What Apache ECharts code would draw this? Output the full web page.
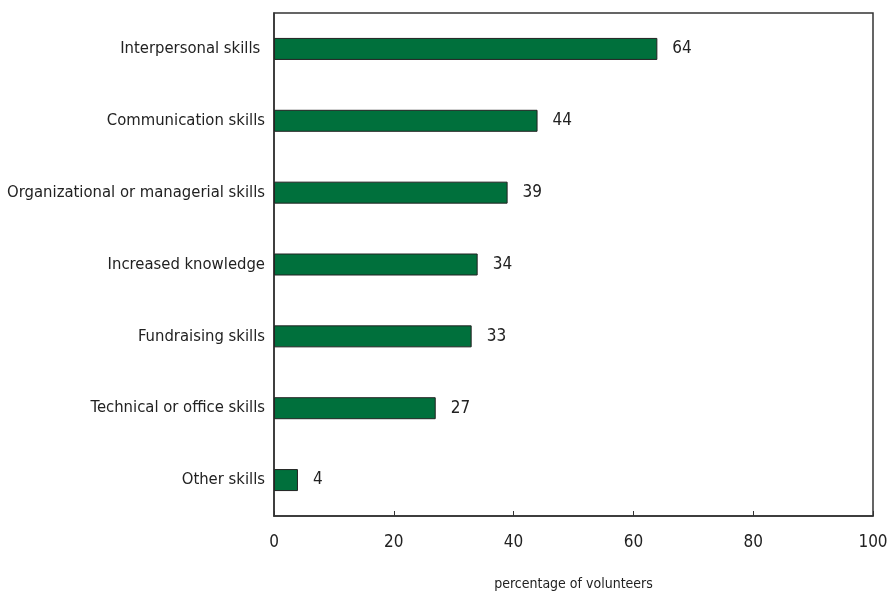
<!DOCTYPE html>
<html><head><meta charset="utf-8">
<script src="https://cdn.jsdelivr.net/npm/echarts@6/dist/echarts.min.js"></script>
<style>html,body{margin:0;padding:0;background:#fff}#c{width:888px;height:596px}</style>
</head><body><div id="c"></div>
<script>
const categories = ["Interpersonal skills ", "Communication skills", "Organizational or managerial skills", "Increased knowledge", "Fundraising skills", "Technical or office skills", "Other skills"];
const values = [64, 44, 39, 34, 33, 27, 4];
const xTicks = [0, 20, 40, 60, 80, 100];
const xTitle = "percentage of volunteers";
const FONT = '"Liberation Sans Narrow", "DejaVu Sans Condensed", "Open Sans", sans-serif';
const chart = echarts.init(document.getElementById('c'));
chart.setOption({
  animation: false,
  grid: {left: 274, right: 15, top: 13, bottom: 80, containLabel: false, outerBoundsMode: 'none', show: true, borderColor: '#333', borderWidth: 1.5},
  xAxis: {
    type: 'value', min: xTicks[0], max: xTicks[xTicks.length-1], interval: 20,
    axisLine: {show: true, lineStyle: {color: '#333', width: 1.5}},
    axisTick: {show: true, inside: true, length: 5, lineStyle: {color: '#333'}},
    splitLine: {show: false},
    axisLabel: {margin: 18, fontFamily: FONT, fontSize: 17, color: '#222'},
    name: xTitle, nameLocation: 'middle', nameGap: 61,
    nameTextStyle: {fontFamily: FONT, fontSize: 14, color: '#222'}
  },
  yAxis: {
    type: 'category', data: categories, inverse: true,
    axisLine: {show: true, lineStyle: {color: '#333', width: 1.5}},
    axisTick: {show: false},
    axisLabel: {margin: 9, fontFamily: FONT, fontSize: 16.5, color: '#222'}
  },
  series: [{
    type: 'bar', data: values, barWidth: 22,
    itemStyle: {color: '#00703C', borderColor: '#222', borderWidth: 1},
    label: {show: true, position: 'right', distance: 15, fontFamily: FONT, fontSize: 17, color: '#222'}
  }]
});
</script></body></html>
